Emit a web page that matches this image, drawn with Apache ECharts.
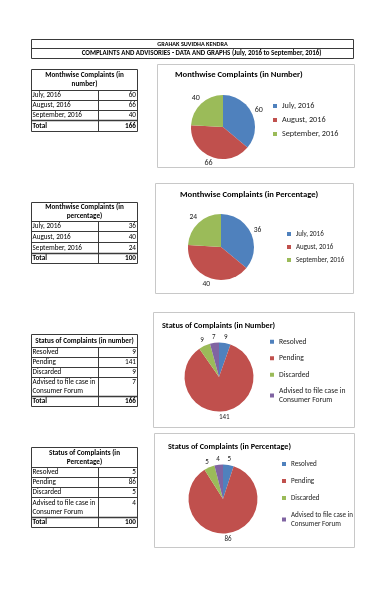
<!DOCTYPE html>
<html><head><meta charset="utf-8">
<script src="https://cdn.jsdelivr.net/npm/echarts@6/dist/echarts.min.js"></script>
<style>html,body{margin:0;padding:0;background:#fff}#c{width:386px;height:594px}</style>
</head><body><div id="c"></div>
<script>
// ---- data ----
const headerTitle = 'GRAHAK SUVIDHA KENDRA';
const headerSubtitle = 'COMPLAINTS AND ADVISORIES - DATA AND GRAPHS (July, 2016 to September, 2016)';
const months = ['July, 2016', 'August, 2016', 'September, 2016'];
const monthCounts = [60, 66, 40];
const monthPercents = [36, 40, 24];
const statuses = ['Resolved', 'Pending', 'Discarded', 'Advised to file case in Consumer Forum'];
const statusCounts = [9, 141, 9, 7];
const statusPercents = [5, 86, 5, 4];
const chartTitles = ['Monthwise Complaints (in Number)', 'Monthwise Complaints (in Percentage)',
  'Status of Complaints (in Number)', 'Status of Complaints (in Percentage)'];
const tableTitles = ['Monthwise Complaints (in\nnumber)', 'Monthwise Complaints (in\npercentage)',
  'Status of Complaints (in number)', 'Status of Complaints (in\nPercentage)'];
const totalLabel = 'Total';

// ---- styles / layout ----
const FONT = 'Carlito, Lato, sans-serif';
const COLORS = ['#4F81BD', '#C0504D', '#9BBB59', '#8064A2'];
const panels = [
  { cats: months, vals: monthCounts, tableTitle: tableTitles[0], title: chartTitles[0],
    table: { x: 31, w: 106, top: 69, headH: 21, rowH: [10, 10, 10, 11], colX: 98, font: 7.2, lh: 9 },
    box: [157, 64, 197, 103], titlePos: { x: 175, y: 75, size: 8.6 },
    pie: { cx: 223, cy: 127, r: 32, font: 8 }, legend: { x: 282, y: 101.5, font: 8.2, lh: 9, gap: 5 } },
  { cats: months, vals: monthPercents, tableTitle: tableTitles[1], title: chartTitles[1],
    table: { x: 31, w: 106, top: 202, headH: 19, rowH: [10, 11, 11, 10], colX: 98, font: 7.2, lh: 9 },
    box: [155, 183, 198, 110], titlePos: { x: 180, y: 195, size: 8.6 },
    pie: { cx: 221, cy: 247, r: 33, font: 7.5 }, legend: { x: 296, y: 229.5, font: 7, lh: 9, gap: 4 } },
  { cats: statuses, vals: statusCounts, tableTitle: tableTitles[2], title: chartTitles[2],
    table: { x: 31, w: 106, top: 334, headH: 13, rowH: [10, 10, 10, 19, 10], colX: 98, font: 7.2, lh: 9 },
    box: [153, 312, 201, 115], titlePos: { x: 162, y: 326, size: 8.2 },
    pie: { cx: 219, cy: 377, r: 34.5, font: 7 }, legend: { x: 279, y: 337.5, font: 7.6, lh: 8.5, gap: 8 } },
  { cats: statuses, vals: statusPercents, tableTitle: tableTitles[3], title: chartTitles[3],
    table: { x: 31, w: 106, top: 447, headH: 20, rowH: [10, 10, 10, 20, 10], colX: 98, font: 7.2, lh: 9.5 },
    box: [154, 433, 200, 114], titlePos: { x: 168, y: 447, size: 8.2 },
    pie: { cx: 223, cy: 499, r: 34.5, font: 7 }, legend: { x: 291, y: 459.5, font: 7.1, lh: 9, gap: 8 } }
];

function wrap(s, maxChars) {
  const words = s.split(' ');
  const lines = []; let cur = '';
  words.forEach(w => {
    const t = cur ? cur + ' ' + w : w;
    if (t.length > maxChars && cur) { lines.push(cur); cur = w; } else cur = t;
  });
  if (cur) lines.push(cur);
  return lines.join('\n');
}

const LINE = '#3a3a3a';
const graphic = [];
function line(x1, y1, x2, y2, color, w) {
  graphic.push({ type: 'line', silent: true, shape: { x1, y1, x2, y2 },
    style: { stroke: color || LINE, lineWidth: w || 1 } });
}
function text(x, y, t, opt) {
  graphic.push({ type: 'text', silent: true, x, y,
    style: Object.assign({ text: t, fontFamily: FONT, fontSize: 7, fill: '#000',
      align: 'left', verticalAlign: 'middle' }, opt || {}) });
}

// header
line(31.5, 39.5, 353.5, 39.5); line(31.5, 48.5, 353.5, 48.5); line(31.5, 58.5, 353.5, 58.5);
line(31.5, 39.5, 31.5, 58.5); line(353.5, 39.5, 353.5, 58.5);
text(192.5, 44, headerTitle, { align: 'center', fontWeight: 'bold', fontSize: 6.2 });
text(201.5, 53.5, headerSubtitle, { align: 'center', fontWeight: 'bold', fontSize: 6.9 });

// tables and chart frames
panels.forEach(p => {
  const t = p.table;
  const x0 = t.x + 0.5, x1 = t.x + t.w + 0.5;
  let y = t.top + 0.5;
  const rowsY = [y];
  y += t.headH; rowsY.push(y);
  t.rowH.forEach(h => { y += h; rowsY.push(y); });
  const hl = p.tableTitle.split('\n');
  const hMid = (rowsY[0] + rowsY[1]) / 2;
  hl.forEach((s, i) => text((x0 + x1) / 2, hMid + (i - (hl.length - 1) / 2) * t.lh, s,
    { align: 'center', fontWeight: 'bold', fontSize: t.font }));
  const labels = p.cats.concat([totalLabel]);
  const values = p.vals.concat([p.vals.reduce((a, b) => a + b, 0)]);
  labels.forEach((lab, i) => {
    const top = rowsY[i + 1], bot = rowsY[i + 2];
    const bold = i === labels.length - 1;
    const lines = wrap(lab, 24).split('\n');
    const firstY = lines.length > 1 ? top + t.lh / 2 + 0.5 : (top + bot) / 2;
    lines.forEach((s, k) => text(x0 + 1, firstY + k * t.lh, s,
      { fontSize: t.font, fontWeight: bold ? 'bold' : 'normal' }));
    text(x1 - 1.5, firstY, String(values[i]),
      { align: 'right', fontSize: t.font, fontWeight: bold ? 'bold' : 'normal' });
  });
  rowsY.forEach((yy, i) => line(x0, yy, x1, yy, LINE, (i === rowsY.length - 2) ? 1.5 : 1));
  line(x0, rowsY[0], x0, rowsY[rowsY.length - 1]);
  line(x1, rowsY[0], x1, rowsY[rowsY.length - 1]);
  line(t.colX + 0.5, rowsY[1], t.colX + 0.5, rowsY[rowsY.length - 1]);
  const b = p.box;
  graphic.push({ type: 'rect', silent: true, z: -1, shape: { x: b[0] + 0.5, y: b[1] + 0.5, width: b[2], height: b[3] },
    style: { fill: '#fff', stroke: '#c8c8c8', lineWidth: 1 } });
});

function labelLayout(params) {
  const pts = params.labelLinePoints;
  if (!pts) return {};
  const dx = pts[1][0] - pts[0][0], dy = pts[1][1] - pts[0][1];
  const len = Math.hypot(dx, dy) || 1;
  const ux = dx / len, uy = dy / len;
  const w = params.labelRect.width, h = params.labelRect.height * 0.8;
  const d = 2.5 + (Math.abs(ux) * w + Math.abs(uy) * h) / 2;
  return { x: pts[0][0] + ux * d, y: pts[0][1] + uy * d, align: 'center', verticalAlign: 'middle' };
}

const option = {
  backgroundColor: '#fff',
  animation: false,
  color: COLORS,
  graphic: graphic,
  title: panels.map(p => ({
    text: p.title, left: p.titlePos.x, top: p.titlePos.y - p.titlePos.size * 0.6, padding: 0,
    textStyle: { fontFamily: FONT, fontSize: p.titlePos.size, fontWeight: 'bold', color: '#000',
      lineHeight: p.titlePos.size * 1.2 }
  })),
  legend: panels.map(p => ({
    orient: 'vertical', left: p.legend.x - 5 - 4, top: p.legend.y, padding: 0,
    itemWidth: 4, itemHeight: 4, itemGap: p.legend.gap, icon: 'rect',
    data: p.cats, selectedMode: false,
    formatter: n => wrap(n, 24),
    textStyle: { fontFamily: FONT, fontSize: p.legend.font, lineHeight: p.legend.lh, color: '#222' }
  })),
  series: panels.map(p => ({
    type: 'pie', center: [p.pie.cx, p.pie.cy], radius: p.pie.r,
    startAngle: 90, clockwise: true, avoidLabelOverlap: false,
    color: COLORS,
    data: p.cats.map((c, i) => ({ name: c, value: p.vals[i], itemStyle: { color: COLORS[i] } })),
    label: { show: true, position: 'outside', formatter: '{c}', fontFamily: FONT,
      fontSize: p.pie.font, color: '#222' },
    labelLine: { show: true, length: 4, length2: 0, lineStyle: { opacity: 0 } },
    labelLayout: labelLayout,
    emphasis: { disabled: true },
    itemStyle: { borderWidth: 0 }
  }))
};
const chart = echarts.init(document.getElementById('c'), null, { renderer: 'canvas' });
chart.setOption(option);
</script></body></html>
